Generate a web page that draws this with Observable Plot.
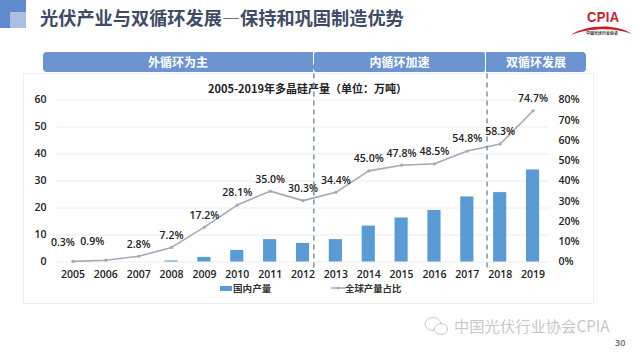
<!DOCTYPE html>
<html lang="zh">
<head>
<meta charset="utf-8">
<script src="https://cdn.jsdelivr.net/npm/d3@7"></script>
<script src="https://cdn.jsdelivr.net/npm/@observablehq/plot@0.6"></script>
<style>
  html, body { margin: 0; padding: 0; background: #fff; width: 633px; height: 353px; overflow: hidden; }
  body { position: relative; font-family: "Noto Sans CJK SC", "Noto Sans", sans-serif; }
  .abs { position: absolute; white-space: nowrap; }
  #chart { position: absolute; left: 0; top: 0; }
  #chart svg { overflow: visible; display: block; background: transparent; }
  .band { position: absolute; top: 52px; height: 20px; line-height: 20px; background: #6b94d0; color: #fff; font-size: 12px; font-weight: 700; text-align: center; }
  .legend { position: absolute; top: 281px; font-size: 11px; line-height: 14px; font-weight: 700; color: #333; white-space: nowrap; }
</style>
</head>
<body>
<div class="abs" style="left:0;top:0;width:26px;height:28px;background:#5f8acb"></div>
<div class="abs" style="left:10px;top:12px;width:16px;height:16px;background:#a9bfe6"></div>
<div class="abs" style="left:40px;top:4px;font-size:18.2px;line-height:26px;font-weight:700;color:#3f4b66">光伏产业与双循环发展—保持和巩固制造优势</div>

<div class="abs" style="left:23px;top:73px;width:571px;height:231px;border:1px solid #eeeeee;box-sizing:border-box;background:#fff"></div>

<div class="band" style="left:43px;width:270px;border-radius:4px 0 0 4px">外循环为主</div>
<div class="band" style="left:314px;width:171px;border-radius:2px">内循环加速</div>
<div class="band" style="left:486px;width:100px;border-radius:0 4px 4px 0">双循环发展</div>

<div class="abs" style="left:208px;top:80px;font-size:11px;line-height:16px;font-weight:700;color:#222">2005-2019年多晶硅产量（单位：万吨）</div>

<div id="chart"></div>

<div class="abs" style="left:220px;top:286px;width:12px;height:5px;background:#5b9bd5"></div>
<div class="legend" style="left:233px;font-size:9.6px">国内产量</div>
<svg class="abs" style="left:331px;top:285px" width="14" height="6"><line x1="0" y1="3" x2="14" y2="3" stroke="#a5a8b8" stroke-width="1.5"/><circle cx="7" cy="3" r="1.5" fill="#a5a8b8"/></svg>
<div class="legend" style="left:345px;font-size:9.4px">全球产量占比</div>

<div class="abs" style="left:587px;top:8px;font-family:'Liberation Sans',sans-serif;font-size:15px;line-height:18px;font-weight:700;color:#c8202a;transform:scale(0.86,1);transform-origin:left top;letter-spacing:0.5px">CPIA</div>
<svg class="abs" style="left:570px;top:22px" width="63" height="14"><path d="M1 13 C 15 3, 45 1, 62 12 C 45 5, 18 6, 1 13 Z" fill="#c8202a"/></svg>
<div class="abs" style="left:586px;top:30px;width:32px;text-align:center;font-size:4px;line-height:6px;font-weight:700;color:#333">中国光伏行业协会</div>

<svg class="abs" style="left:423px;top:315px" width="28" height="22">
  <ellipse cx="10" cy="9" rx="8" ry="6.5" fill="none" stroke="#c9c9c9" stroke-width="1"/>
  <ellipse cx="18" cy="14" rx="6.5" ry="5.5" fill="#fff" stroke="#c9c9c9" stroke-width="1"/>
</svg>
<div class="abs" style="left:454px;top:315px;font-size:15.3px;line-height:20px;color:#c8c8c8">中国光伏行业协会CPIA</div>
<div class="abs" style="left:615px;top:337px;font-size:9px;line-height:12px;color:#666;font-family:'Open Sans',sans-serif;font-weight:600">30</div>

<script>
const years = [2005,2006,2007,2008,2009,2010,2011,2012,2013,2014,2015,2016,2017,2018,2019];
const output = [0,0,0,0.4,1.7,4.3,8.3,6.9,8.3,13.3,16.3,19.1,24.1,25.7,34.1];
const share = [0.3,0.9,2.8,7.2,17.2,28.1,35.0,30.3,34.4,45.0,47.8,48.5,54.8,58.3,74.7];
const shareLabels = ["0.3%","0.9%","2.8%","7.2%","17.2%","28.1%","35.0%","30.3%","34.4%","45.0%","47.8%","48.5%","54.8%","58.3%","74.7%"];
const leftTicks = [0,10,20,30,40,50,60];
const rightTicks = [0,10,20,30,40,50,60,70,80];
const phaseEnds = [2012.33,2017.6];
const labelDx = [-10,-13.5,0,0,0,0,0,0,0,0,0,0,0,0,0];
const labelDy = [-18.6,-19,-11.5,-12,-12,-12,-12,-12,-12,-12,-12,-12,-12,-12,-12];

const toLeft = p => p * 60 / 80;
const barHalf = 0.2;
const rows = years.map((year, i) => ({year, output: output[i], share: toLeft(share[i]), label: shareLabels[i], i}));
const axisFont = {fontWeight: 600, fill: "#222"};

const plot = Plot.plot({
  width: 633,
  height: 353,
  marginTop: 99.5,
  marginBottom: 91.5,
  marginLeft: 56,
  marginRight: 84,
  style: {fontFamily: "'Open Sans','Noto Sans CJK SC',sans-serif", fontSize: "10.5px", background: "transparent"},
  x: {domain: [2004.5, 2019.5]},
  y: {domain: [0, 60]},
  marks: [
    Plot.ruleY(leftTicks, {stroke: "#ececec", strokeWidth: 1}),
    Plot.rect(rows.filter(d => d.output > 0), {x1: d => d.year - barHalf, x2: d => d.year + barHalf, y1: 0, y2: "output", fill: "#5b9bd5"}),
    Plot.line(rows, {x: "year", y: "share", stroke: "#a5a8b8", strokeWidth: 1.6}),
    Plot.dot(rows, {x: "year", y: "share", r: 1.6, fill: "#a5a8b8"}),
    Plot.ruleX(phaseEnds, {y1: -2.2, y2: 73.5, stroke: "#6f8fa8", strokeWidth: 1.4, strokeDasharray: "5,4"}),
    ...rows.map(d => Plot.text([d], {x: "year", y: "share", text: "label", dx: labelDx[d.i], dy: labelDy[d.i], fontWeight: 600, fill: "#222", fontSize: 10.5})),
    Plot.axisY({anchor: "left", ticks: leftTicks, tickSize: 0, tickPadding: 10, label: null, ...axisFont}),
    Plot.axisY({anchor: "right", ticks: rightTicks.map(toLeft), tickFormat: v => `${Math.round(v * 80 / 60)}%`, tickSize: 0, tickPadding: 9, label: null, ...axisFont}),
    Plot.axisX({anchor: "bottom", ticks: years, tickFormat: d3.format("d"), tickSize: 0, tickPadding: 9, label: null, ...axisFont})
  ]
});
document.getElementById("chart").appendChild(plot);
</script>
</body>
</html>
